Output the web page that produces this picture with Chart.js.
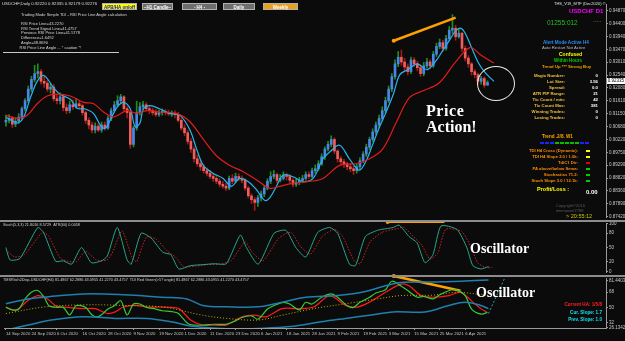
<!DOCTYPE html>
<html>
<head>
<meta charset="utf-8">
<script src="https://cdn.jsdelivr.net/npm/chart.js@4.4.1/dist/chart.umd.min.js"></script>
<style>
  body { margin: 0; background: #0b0b0b; width: 625px; height: 341px; overflow: hidden; position: relative;
         font-family: "Liberation Sans", Arial, sans-serif; }
  canvas { position: absolute; left: 0; }
  .t { position: absolute; white-space: nowrap; line-height: 1; }
  .b { font-weight: bold; }
  .r { text-align: right; }
  .btn { position: absolute; top: 3px; height: 7px; font: bold 4.5px/7px "Liberation Sans", Arial, sans-serif;
         text-align: center; box-sizing: border-box; border: 1px solid #b0b0b0; }
  .big { position: absolute; white-space: nowrap; line-height: 1; color: #fff; font-weight: bold;
         font-family: "Liberation Serif", "Times New Roman", serif; }
  .sep { position: absolute; left: 0; width: 625px; height: 2px; background: #8c8c8c; }
  .sq { position: absolute; width: 4px; height: 2px; }
</style>
</head>
<body>
<canvas id="main" width="625" height="221" style="top:0"></canvas>
<canvas id="stoch" width="625" height="57" style="top:219px"></canvas>
<canvas id="tdi" width="625" height="67" style="top:274px"></canvas>

<div class="sep" style="top:220px"></div>
<div class="sep" style="top:275px"></div>

<!-- top left -->
<div class="t" style="left:2px;top:2px;font-size:4.3px;color:#ddd">USDCHF,Daily 0.92220 0.92335 0.92179 0.92276</div>
<div class="btn" style="left:102px;width:35px;background:#ffff00;color:#1010c0">APB/HA on/off</div>
<div class="btn" style="left:142px;width:31px;background:#6e6e6e;color:#fff">~H1 Candle~</div>
<div class="btn" style="left:182px;width:35px;background:#6e6e6e;color:#fff">- H4 -</div>
<div class="btn" style="left:223px;width:32px;background:#6e6e6e;color:#fff">Daily</div>
<div class="btn" style="left:263px;width:35px;background:#e8a020;color:#fff">Weekly</div>
<div class="t" style="left:21px;top:12.7px;font-size:4px;color:#d8d8d8">Trading Mode Simple TDI - RSI Price Line Angle calculation</div>
<div class="t" style="left:21px;top:22px;font-size:4px;color:#d8d8d8">RSI Price Line=43.2270</div>
<div class="t" style="left:21px;top:26.7px;font-size:4px;color:#d8d8d8">RSI Trend Signal Line=41.4757</div>
<div class="t" style="left:21px;top:31.3px;font-size:4px;color:#d8d8d8">Previous RSI Price Line=41.5778</div>
<div class="t" style="left:21px;top:36px;font-size:4px;color:#d8d8d8">Difference=1.6492</div>
<div class="t" style="left:21px;top:40.7px;font-size:4px;color:#d8d8d8">Angle=48.8690</div>
<div class="t" style="left:19.5px;top:45.7px;font-size:4px;color:#d8d8d8">RSI Price Line Angle ... * caution *!</div>
<div style="position:absolute;left:3px;top:52px;width:116px;height:1px;background:#c8c8c8"></div>

<!-- right info panel -->
<div class="t" style="left:554px;top:2.3px;font-size:4px;color:#e0e0e0">THS_V19_MTF (Dec2020) ©</div>
<div class="t b" style="left:569px;top:8px;font-size:6px;color:#ff00ff">USDCHF D1</div>
<div class="t" style="left:547px;top:19.7px;font-size:6.5px;color:#1fc01f">01255:012</div>
<div class="t" style="left:593px;top:17px;font-size:6px;color:#ffa500">.....</div>
<div class="t b" style="left:543px;top:40.7px;font-size:4.6px;color:#2a8cf0">Alert Mode Active H4</div>
<div class="t" style="left:542px;top:45.9px;font-size:4.2px;color:#bbbbbb">Auto Restart Not Active</div>
<div class="t b" style="left:559px;top:51.5px;font-size:5px;color:#ffff00">Confused</div>
<div class="t b" style="left:554px;top:58.8px;font-size:4.5px;color:#00d000">Within Hours</div>
<div class="t b" style="left:542px;top:64.8px;font-size:4.3px;color:#e8a000">Trend Up *** Strong Buy</div>

<div class="t b r" style="right:60px;top:74px;font-size:4.3px;color:#f0c040">Magic Number:</div>
<div class="t b r" style="right:27px;top:74px;font-size:4.3px;color:#fff">0</div>
<div class="t b r" style="right:60px;top:80px;font-size:4.3px;color:#f0c040">Lot Size:</div>
<div class="t b r" style="right:27px;top:80px;font-size:4.3px;color:#fff">3.56</div>
<div class="t b r" style="right:60px;top:86px;font-size:4.3px;color:#f0c040">Spread:</div>
<div class="t b r" style="right:27px;top:86px;font-size:4.3px;color:#fff">0.0</div>
<div class="t b r" style="right:60px;top:92px;font-size:4.3px;color:#f0c040">ATR PIP Range:</div>
<div class="t b r" style="right:27px;top:92px;font-size:4.3px;color:#fff">21</div>
<div class="t b r" style="right:60px;top:98px;font-size:4.3px;color:#f0c040">Tic Count / min:</div>
<div class="t b r" style="right:27px;top:98px;font-size:4.3px;color:#fff">42</div>
<div class="t b r" style="right:60px;top:104px;font-size:4.3px;color:#f0c040">Tic Count Max:</div>
<div class="t b r" style="right:27px;top:104px;font-size:4.3px;color:#fff">381</div>
<div class="t b r" style="right:60px;top:110px;font-size:4.3px;color:#f0c040">Winning Trades:</div>
<div class="t b r" style="right:27px;top:110px;font-size:4.3px;color:#fff">0</div>
<div class="t b r" style="right:60px;top:116px;font-size:4.3px;color:#f0c040">Losing Trades:</div>
<div class="t b r" style="right:27px;top:116px;font-size:4.3px;color:#fff">0</div>

<div class="t b" style="left:542px;top:134.7px;font-size:4.6px;color:#ffa500">Trend .2/8. W1</div>
<div class="sq" style="left:540px;top:142px;background:#2020ff"></div>
<div class="sq" style="left:545px;top:142px;background:#2020ff"></div>
<div class="sq" style="left:550px;top:142px;background:#2020ff"></div>
<div class="sq" style="left:555px;top:142px;background:#00c000"></div>
<div class="sq" style="left:560px;top:142px;background:#00c000"></div>
<div class="sq" style="left:565px;top:142px;background:#00c000"></div>
<div class="sq" style="left:570px;top:142px;background:#00c000"></div>
<div class="sq" style="left:575px;top:142px;background:#00c000"></div>
<div class="sq" style="left:580px;top:142px;background:#2020ff"></div>
<div class="sq" style="left:585px;top:142px;background:#2020ff"></div>

<div class="t b r" style="right:47px;top:149px;font-size:4.2px;color:#ff8c00">TDI H4 Cross (Dynamic):</div>
<div class="sq" style="left:586px;top:150px;background:#ffff00"></div>
<div class="t b r" style="right:47px;top:155px;font-size:4.2px;color:#ff8c00">TDI H4 Slope 2.0 / 1.0k:</div>
<div class="sq" style="left:586px;top:156px;background:#ffff00"></div>
<div class="t b r" style="right:47px;top:161px;font-size:4.2px;color:#ff8c00">TdiC1 Dir:</div>
<div class="sq" style="left:586px;top:162px;background:#e00000"></div>
<div class="t b r" style="right:47px;top:167px;font-size:4.2px;color:#ff8c00">PA above/below Sema:</div>
<div class="sq" style="left:586px;top:168px;background:#00d000"></div>
<div class="t b r" style="right:47px;top:173px;font-size:4.2px;color:#ff8c00">Stochastics 71.2:</div>
<div class="sq" style="left:586px;top:174px;background:#00d000"></div>
<div class="t b r" style="right:47px;top:179px;font-size:4.2px;color:#ff8c00">Stoch Slope 3.0 / 12.1k:</div>
<div class="sq" style="left:586px;top:180px;background:#00d000"></div>

<div class="t b" style="left:537px;top:187.2px;font-size:5.5px;color:#ffff00">Profit/Loss :</div>
<div class="t b" style="left:586px;top:189px;font-size:6px;color:#fff">0.00</div>
<div class="t" style="left:556px;top:204px;font-size:4px;color:#5a5a5a">Copyright©2016</div>
<div class="t" style="left:556px;top:209px;font-size:4px;color:#5a5a5a">timmanuel7788</div>
<div class="t" style="left:566px;top:214.2px;font-size:5.5px;color:#c8c800">&gt; 20:55:12</div>

<!-- current price marker -->
<div class="t" style="left:607px;top:78px;width:18px;height:6px;background:#fff;color:#000;font-size:4.5px;line-height:6px;text-align:center">0.92335</div>
<!-- circled last candles -->
<div style="position:absolute;left:477px;top:66px;width:36px;height:33px;border:1px solid #e8e8e8;border-radius:50%"></div>

<div class="big" style="left:426px;top:103px;font-size:16px;letter-spacing:0.6px">Price</div>
<div class="big" style="left:426px;top:119px;font-size:16px">Action!</div>

<!-- sub window labels -->
<div class="t" style="left:3px;top:224px;font-size:3.8px;color:#d0d0d0">Stoch(5,3,3) 21.8016 8.5729&nbsp;&nbsp;ATR(60) 0.0058</div>
<div class="big" style="left:470px;top:242px;font-size:14px">Oscillator</div>
<div class="t" style="left:3px;top:279px;font-size:3.8px;color:#d0d0d0">TMSRtich2Disp-USDCHF(H4) 81.4867 62.2886 43.0955 41.2270 43.4757&nbsp;&nbsp;TDI Red Green(&gt;5? angle) 81.4867 62.2886 43.0955 41.2270 43.4757</div>
<div class="big" style="left:476px;top:286px;font-size:14px">Oscillator</div>
<div class="t b r" style="right:23px;top:303.4px;font-size:4.6px;color:#ff2020">Current HA: 1/5/8</div>
<div class="t b r" style="right:23px;top:310.7px;font-size:4.6px;color:#18e0f0">Cur. Slope: 1.7</div>
<div class="t b r" style="right:23px;top:318.4px;font-size:4.6px;color:#18e0f0">Prev. Slope: 1.0</div>

<script>
// ---- daily USDCHF bars, 14 Sep 2020 .. 15 Apr 2021 (one row = 8 bars = one date tick)
const opens = [
  0.9085,0.9091,0.9098,0.9077,0.9088,0.9102,0.9133,0.9162,
  0.9204,0.9239,0.9260,0.9267,0.9232,0.9225,0.9204,0.9211,
  0.9169,0.9162,0.9176,0.9137,0.9126,0.9147,0.9140,0.9151,
  0.9144,0.9119,0.9091,0.9074,0.9056,0.9070,0.9056,0.9074,
  0.9063,0.9098,0.9126,0.9147,0.9162,0.9176,0.9133,0.9119,
  0.9004,0.9063,0.9119,0.9140,0.9147,0.9133,0.9126,0.9119,
  0.9112,0.9119,0.9123,0.9119,0.9116,0.9116,0.9112,0.9091,
  0.9063,0.9046,0.9015,0.8987,0.8952,0.8934,0.8923,0.8909,
  0.8899,0.8888,0.8881,0.8871,0.8860,0.8853,0.8846,0.8881,
  0.8871,0.8888,0.8881,0.8874,0.8846,0.8818,0.8804,0.8794,
  0.8811,0.8825,0.8846,0.8871,0.8888,0.8895,0.8874,0.8881,
  0.8892,0.8888,0.8874,0.8860,0.8867,0.8874,0.8881,0.8895,
  0.8888,0.8909,0.8916,0.8934,0.8959,0.8987,0.9004,0.9022,
  0.8980,0.8952,0.8941,0.8934,0.8923,0.8916,0.8909,0.8923,
  0.8945,0.8969,0.8994,0.9022,0.9049,0.9074,0.9098,0.9126,
  0.9162,0.9204,0.9249,0.9295,0.9319,0.9302,0.9284,0.9267,
  0.9309,0.9295,0.9281,0.9260,0.9288,0.9302,0.9288,0.9330,
  0.9358,0.9372,0.9351,0.9386,0.9417,0.9424,0.9393,0.9406,
  0.9351,0.9316,0.9295,0.9267,0.9256,0.9232,0.9242,0.9218
];
const closes = [
  0.9091,0.9098,0.9077,0.9088,0.9102,0.9133,0.9162,0.9204,
  0.9239,0.9260,0.9267,0.9232,0.9225,0.9204,0.9211,0.9169,
  0.9162,0.9176,0.9137,0.9126,0.9147,0.9140,0.9151,0.9144,
  0.9119,0.9091,0.9074,0.9056,0.9070,0.9056,0.9074,0.9063,
  0.9098,0.9126,0.9147,0.9162,0.9176,0.9133,0.9119,0.9004,
  0.9063,0.9119,0.9140,0.9147,0.9133,0.9126,0.9119,0.9112,
  0.9119,0.9123,0.9119,0.9116,0.9116,0.9112,0.9091,0.9063,
  0.9046,0.9015,0.8987,0.8952,0.8934,0.8923,0.8909,0.8899,
  0.8888,0.8881,0.8871,0.8860,0.8853,0.8846,0.8881,0.8871,
  0.8888,0.8881,0.8874,0.8846,0.8818,0.8804,0.8794,0.8811,
  0.8825,0.8846,0.8871,0.8888,0.8895,0.8874,0.8881,0.8892,
  0.8888,0.8874,0.8860,0.8867,0.8874,0.8881,0.8895,0.8888,
  0.8909,0.8916,0.8934,0.8959,0.8987,0.9004,0.9022,0.8980,
  0.8952,0.8941,0.8934,0.8923,0.8916,0.8909,0.8923,0.8945,
  0.8969,0.8994,0.9022,0.9049,0.9074,0.9098,0.9126,0.9162,
  0.9204,0.9249,0.9295,0.9319,0.9302,0.9284,0.9267,0.9309,
  0.9295,0.9281,0.9260,0.9288,0.9302,0.9288,0.9330,0.9358,
  0.9372,0.9351,0.9386,0.9417,0.9424,0.9393,0.9406,0.9351,
  0.9316,0.9295,0.9267,0.9256,0.9232,0.9242,0.9218,0.9228
];
const highs = [
  0.9110,0.9112,0.9105,0.9100,0.9115,0.9140,0.9170,0.9215,
  0.9250,0.9290,0.9295,0.9275,0.9250,0.9235,0.9225,0.9220,
  0.9185,0.9190,0.9180,0.9150,0.9160,0.9165,0.9170,0.9160,
  0.9150,0.9125,0.9100,0.9085,0.9082,0.9078,0.9085,0.9085,
  0.9105,0.9135,0.9160,0.9180,0.9185,0.9180,0.9140,0.9125,
  0.9070,0.9160,0.9155,0.9160,0.9155,0.9140,0.9135,0.9130,
  0.9128,0.9132,0.9130,0.9128,0.9125,0.9125,0.9120,0.9098,
  0.9075,0.9055,0.9025,0.8995,0.8965,0.8945,0.8930,0.8918,
  0.8910,0.8898,0.8890,0.8880,0.8870,0.8865,0.8890,0.8895,
  0.8900,0.8898,0.8890,0.8880,0.8852,0.8825,0.8812,0.8820,
  0.8835,0.8855,0.8880,0.8905,0.8910,0.8900,0.8895,0.8905,
  0.8900,0.8895,0.8880,0.8878,0.8885,0.8892,0.8905,0.8905,
  0.8918,0.8930,0.8945,0.8970,0.8995,0.9015,0.9035,0.9028,
  0.8985,0.8960,0.8950,0.8940,0.8935,0.8925,0.8932,0.8955,
  0.8978,0.9005,0.9030,0.9060,0.9085,0.9110,0.9140,0.9175,
  0.9215,0.9260,0.9310,0.9340,0.9345,0.9315,0.9295,0.9320,
  0.9318,0.9305,0.9290,0.9300,0.9315,0.9310,0.9340,0.9370,
  0.9385,0.9380,0.9398,0.9430,0.9473,0.9435,0.9420,0.9410,
  0.9360,0.9325,0.9300,0.9275,0.9262,0.9250,0.9248,0.9234
];
const lows = [
  0.9070,0.9082,0.9065,0.9068,0.9080,0.9095,0.9125,0.9155,
  0.9195,0.9230,0.9245,0.9222,0.9210,0.9195,0.9190,0.9160,
  0.9150,0.9150,0.9125,0.9115,0.9118,0.9130,0.9135,0.9135,
  0.9110,0.9080,0.9060,0.9045,0.9045,0.9050,0.9048,0.9055,
  0.9058,0.9090,0.9120,0.9140,0.9150,0.9125,0.9100,0.8990,
  0.8995,0.9055,0.9110,0.9130,0.9125,0.9115,0.9110,0.9105,
  0.9105,0.9110,0.9110,0.9108,0.9105,0.9100,0.9085,0.9055,
  0.9035,0.9005,0.8975,0.8940,0.8925,0.8910,0.8900,0.8890,
  0.8880,0.8870,0.8862,0.8850,0.8845,0.8838,0.8840,0.8862,
  0.8865,0.8872,0.8865,0.8838,0.8810,0.8790,0.8765,0.8780,
  0.8800,0.8815,0.8840,0.8862,0.8880,0.8865,0.8868,0.8875,
  0.8875,0.8865,0.8850,0.8852,0.8858,0.8865,0.8875,0.8880,
  0.8882,0.8900,0.8910,0.8928,0.8950,0.8980,0.8995,0.8970,
  0.8940,0.8930,0.8920,0.8912,0.8905,0.8895,0.8900,0.8915,
  0.8938,0.8960,0.8985,0.9015,0.9040,0.9065,0.9090,0.9118,
  0.9155,0.9195,0.9240,0.9285,0.9290,0.9270,0.9255,0.9260,
  0.9285,0.9270,0.9250,0.9252,0.9280,0.9278,0.9282,0.9322,
  0.9350,0.9340,0.9345,0.9380,0.9405,0.9380,0.9388,0.9340,
  0.9305,0.9282,0.9255,0.9245,0.9220,0.9222,0.9210,0.9218
];
const dateLabels = ["14 Sep 2020","24 Sep 2020","6 Oct 2020","16 Oct 2020","28 Oct 2020","9 Nov 2020",
  "19 Nov 2020","1 Dec 2020","11 Dec 2020","23 Dec 2020","6 Jan 2021","18 Jan 2021","28 Jan 2021",
  "9 Feb 2021","19 Feb 2021","3 Mar 2021","15 Mar 2021","25 Mar 2021","6 Apr 2021"];
const priceTicks = [0.94870,0.94400,0.93940,0.93470,0.93010,0.92540,0.92080,0.91610,0.91150,
  0.90680,0.90220,0.89750,0.89290,0.88820,0.88360,0.87890,0.87420];
const lastPrice = 0.92335;

// moving averages, [bar, price]
const fastMA = [[0,0.9102],[2.5,0.9086],[4,0.9082],[5.6,0.9103],[7.7,0.9173],[9.8,0.9232],[11.9,0.9253],
  [15,0.9208],[17,0.9185],[20.2,0.9167],[22.3,0.9135],[24.9,0.9132],[27.5,0.9115],[29.6,0.9074],[31.1,0.9062],
  [32.7,0.9091],[34.8,0.9138],[36.9,0.9156],[39,0.9132],[40.5,0.9068],[42,0.9080],[43.1,0.9132],[45.2,0.9144],
  [48.3,0.9132],[51.5,0.9115],[54.6,0.9109],[57.7,0.9056],[59.8,0.8987],[61.9,0.8928],[65,0.8899],[68.1,0.8881],
  [70.7,0.8853],[73.3,0.8881],[75.9,0.8870],[78.5,0.8841],[81.1,0.8802],[82.7,0.8811],[84.8,0.8852],[86.9,0.8893],
  [90,0.8887],[93.1,0.8870],[96.3,0.8881],[99.4,0.8952],[101.5,0.8976],[104.6,0.9001],[107.7,0.8952],[110.8,0.8911],
  [113,0.8946],[115,0.9004],[117,0.9063],[119.4,0.9126],[121.5,0.9186],[123.5,0.9256],[126,0.9274],[129,0.9295],
  [132,0.9274],[135,0.9309],[137,0.9344],[139,0.9379],[141,0.9414],[142.5,0.9424],[144,0.9406],[146,0.9354],
  [148,0.9302],[150,0.9267],[153,0.9232]];
const slowMA = [[0,0.9109],[3.6,0.9098],[6.7,0.9109],[9.8,0.9151],[12.9,0.9179],[16,0.9186],[20.2,0.9179],
  [24.4,0.9156],[27.5,0.9151],[30.6,0.9121],[33.8,0.9103],[37.9,0.9126],[41,0.9116],[44.2,0.9126],[48.3,0.9121],
  [53.5,0.9116],[57.7,0.9086],[61.9,0.9022],[66,0.8963],[70.2,0.8928],[74.4,0.8905],[78.5,0.8876],[82.7,0.8846],
  [85.8,0.8852],[90,0.8864],[95.2,0.8870],[99.4,0.8881],[104.6,0.8928],[109.8,0.8934],[114,0.8952],[118.1,0.8987],
  [122.3,0.9081],[126.5,0.9173],[130.6,0.9197],[135.8,0.9226],[141,0.9302],[145.5,0.9354],[149,0.9326],[153,0.9298]];
const priceTrend = [[121.6,0.93785],[141,0.94625]];

// stochastic
const stochMain = [[0,50],[1.3,24],[4.4,27],[10,92],[11.9,80],[15.6,21],[18,22],[20.6,15],[23.7,50],[26.8,18],
  [30,22],[31.8,32],[34.9,92],[38,24],[39.3,15],[42.4,80],[45.5,70],[49.2,40],[51.7,35],[54.2,5],[57.9,12],
  [61.7,14],[65.4,16],[69.1,16],[73.5,76],[75.4,50],[79.1,15],[84.1,80],[87.8,86],[90.9,50],[94,30],[97.8,82],
  [101.5,92],[104,80],[107.7,15],[109.6,12],[112.7,73],[116.5,86],[121.4,92],[123.3,97],[126.4,73],[128.9,60],
  [131.4,18],[133.9,35],[136.4,95],[141.4,88],[144.5,50],[146.4,12],[148.9,5],[151.3,10]];
const stochSignal = [[0,45],[2.8,30],[5.8,35],[11.5,82],[13.4,74],[17,28],[19.5,21],[22,20],[25,42],[28.3,24],
  [31.5,23],[33.3,38],[36.4,85],[39.5,30],[41,20],[44,72],[47,68],[50.7,42],[53.2,30],[55.7,10],[59.4,11],
  [63.2,14],[67,15],[70.6,22],[75,62],[77,42],[80.6,22],[85.6,70],[89.3,82],[92.4,52],[95.5,36],[99.3,74],
  [103,88],[105.5,74],[109.2,22],[111.1,16],[114.2,62],[118,82],[122.9,90],[124.8,92],[127.9,72],[130.4,55],
  [132.9,26],[135.4,38],[137.9,88],[142.9,84],[146,48],[147.9,18],[150.4,8],[152.5,8]];
const stochTrend = [[119.7,103.3],[137.5,103.3]];
const stochTicks = [100, 80, 50, 20, 0];

// TDI
const tdiGreen = [[0,50],[2,47],[4,48],[6,60],[8,68],[10,70],[12,62],[13.5,52],[16,50],[18,50],[20,41],[22,52],
  [25,50],[27,41],[29,39],[32,48],[34,52],[36,58],[38,41],[40,54],[42,54],[44,50],[47,48],[49,46],[52,45],[54,43],
  [57,31],[59,29],[62,29],[65,30],[69,30],[72,34],[74,38],[77,40],[79,36],[82,48],[84,52],[87,56],[89,54],[92,47],
  [94,56],[96,54],[99,62],[102,66],[104,62],[107,52],[109,50],[111,56],[114,62],[116,67],[119,71],[121,81],
  [124,75],[126,70],[129,62],[131,63],[134,60],[136,65],[139,70],[141,71],[144,64],[146,48],[149,42],[151,44]];
const tdiRed = [[0,50.4],[3.1,46.5],[6.9,58],[10,64],[13.1,60],[15.6,52],[19.3,50],[24.3,48.5],[28,48.5],
  [31.8,42.7],[34.3,44.6],[36.8,50.4],[40.5,52.3],[44.2,50.4],[49.2,50.4],[54.2,48.5],[57.9,35],[61.7,29],
  [65.4,29],[69.1,29],[74.1,38.8],[77.9,40.7],[81.6,38.8],[86.6,48.5],[91.6,48.5],[96.5,50.4],[101.5,63.9],
  [106.5,52.3],[110.2,50.4],[114,56.2],[119,67.8],[123.9,77.5],[126.4,75.6],[130.2,63.9],[133.9,62],[138.9,63.9],
  [142.6,67.8],[146.4,56.2],[148.9,48.5],[150.7,44.6]];
const tdiBase = [[0,42.7],[11.9,50.4],[24.3,53],[36.8,52.3],[49.2,50.4],[61.7,40.7],[69.1,37],[79.1,35],
  [86.6,40.7],[96.5,48.5],[106.5,54.3],[116.5,60],[123.9,64],[133.9,64.5],[141.4,67.8],[151.3,64]];
const tdiUpper = [[0,54.3],[6.9,60],[11.9,62],[24.3,65.9],[36.8,65],[49.2,62],[56.7,60],[61.7,52.3],[69.1,50.6],
  [79.1,50.6],[86.6,56.2],[94,62],[104,64],[111.5,67.8],[119,75.6],[123.9,79.5],[133.9,80],[142.6,81],[151.3,82.5]];
const tdiLower = [[0,23],[6.9,29],[14.3,35],[24.3,38.8],[34.3,36.9],[44.2,36.9],[51.7,33],[59.2,27.2],[69.1,24.7],
  [79.1,25],[89.1,27.2],[99,33],[106.5,36.9],[114,40.7],[121.4,44.6],[131.4,44.6],[138.9,52.3],[143.9,56.2],
  [148.9,52.3],[151.3,48.5]];
const tdiProjection = [[151.3,42.7],[156.3,84]];
const tdiTrend = [[121.6,87.1],[142.5,69.7]];
const tdiTicks = [81.4403, 68, 50, 32, 26.1342];

// ---- helpers
const grey = '#9a9a9a';
const tickFont = { family: '"Liberation Sans", Arial, sans-serif', size: 4.5 };

const levelLines = {
  id: 'levelLines',
  beforeDatasetsDraw(chart, args, opts) {
    const { ctx, chartArea: a, scales: { y } } = chart;
    ctx.save();
    (opts.lines || []).forEach(l => {
      const py = Math.round(y.getPixelForValue(l.value)) + 0.5;
      ctx.strokeStyle = l.color;
      ctx.lineWidth = 1;
      ctx.setLineDash(l.dash || []);
      ctx.beginPath();
      ctx.moveTo(a.left, py);
      ctx.lineTo(a.right, py);
      ctx.stroke();
    });
    ctx.restore();
  }
};

function xAxis(show) {
  return {
    type: 'linear', min: -0.6, max: 188.15, offset: false, bounds: 'data', display: show,
    afterBuildTicks: s => { s.ticks = dateLabels.map((_, k) => ({ value: k * 8 })); },
    afterFit: s => { s.height = show ? 13 : 0; },
    ticks: { autoSkip: false, maxRotation: 0, align: 'start', color: '#c8c8c8', padding: 1,
             font: { family: tickFont.family, size: 4.3 }, callback: (v, i) => dateLabels[i] },
    grid: { drawOnChartArea: false, drawTicks: true, tickLength: 2, color: grey },
    border: { display: true, color: grey }
  };
}

function yAxis(min, max, vals, fmt) {
  return {
    position: 'right', min, max, bounds: 'data',
    afterFit: s => { s.width = 19; },
    afterBuildTicks: s => { s.ticks = vals.map(v => ({ value: v })); },
    ticks: { color: '#c8c8c8', font: tickFont, padding: 1, callback: fmt },
    grid: { drawOnChartArea: false, drawTicks: true, tickLength: 2, color: grey },
    border: { display: true, color: grey }
  };
}

function line(data, color, width, extra) {
  return Object.assign({ type: 'line', data, borderColor: color, borderWidth: width, pointRadius: 0,
    tension: 0.35, fill: false, order: 0 }, extra || {});
}

function baseOptions(pad, x, y, levels) {
  return {
    responsive: false, animation: false, events: [],
    layout: { padding: pad },
    plugins: { legend: { display: false }, tooltip: { enabled: false }, levelLines: { lines: levels } },
    scales: { x, y }
  };
}

// ---- main price window
const bodies = closes.map((c, i) => ({ x: i, y: [opens[i], c] }));
const wicks = closes.map((c, i) => ({ x: i, y: [lows[i], highs[i]] }));
const isUp = i => closes[i] >= opens[i];

new Chart(document.getElementById('main'), {
  type: 'bar',
  data: {
    datasets: [
      { type: 'bar', data: wicks, grouped: false, barThickness: 1, maxBarThickness: 1, order: 3,
        backgroundColor: c => isUp(c.dataIndex) ? '#1e8f1e' : '#a01818' },
      { type: 'bar', data: bodies, grouped: false, barThickness: 2, maxBarThickness: 2, minBarLength: 1, order: 2,
        backgroundColor: c => isUp(c.dataIndex) ? '#4a86e6' : '#ee5e5a' },
      line(slowMA, '#e41b1b', 1.2),
      line(fastMA, '#27b6ea', 1.2),
      line(priceTrend, '#ffa000', 2.5, { tension: 0, pointRadius: [2, 0], pointBackgroundColor: '#ffa000',
        pointBorderWidth: 0 })
    ]
  },
  options: baseOptions({ left: 2, right: 0, top: 0, bottom: 1 }, xAxis(false),
    yAxis(0.87415, 0.95115, priceTicks, v => v.toFixed(5)),
    [{ value: lastPrice, color: '#3c3c3c' }])
});

// ---- stochastic window
new Chart(document.getElementById('stoch'), {
  type: 'line',
  data: {
    datasets: [
      line(stochMain, '#2aa58e', 1, { tension: 0.2 }),
      line(stochSignal, '#d42020', 1, { tension: 0.2, borderDash: [1.5, 1.5] }),
      line(stochTrend, '#ffa000', 2, { tension: 0, clip: false, pointRadius: [2, 0],
        pointBackgroundColor: '#ffa000', pointBorderWidth: 0 })
    ]
  },
  options: baseOptions({ left: 2, right: 0, top: 3, bottom: 1 }, xAxis(false),
    yAxis(-1.4, 101.4, stochTicks, v => String(v)),
    [80, 50, 20].map(v => ({ value: v, color: '#777', dash: [2, 2] })))
});

// ---- TDI window
new Chart(document.getElementById('tdi'), {
  type: 'line',
  data: {
    datasets: [
      line(tdiUpper, '#1f7fae', 1.5),
      line(tdiLower, '#1f7fae', 1.5),
      line(tdiBase, '#c8b400', 1, { borderDash: [1, 2] }),
      line(tdiProjection, '#2aa0b0', 1, { tension: 0, borderDash: [2, 2] }),
      line(tdiGreen, '#38c838', 1.2, { tension: 0.3 }),
      line(tdiRed, '#ff1a1a', 1.2, { tension: 0.3 }),
      line(tdiTrend, '#ffa000', 2.5, { tension: 0, clip: false, pointRadius: [2, 0],
        pointBackgroundColor: '#ffa000', pointBorderWidth: 0 })
    ]
  },
  options: baseOptions({ left: 2, right: 0, top: 3, bottom: 0 }, xAxis(true),
    yAxis(25.55, 84.81, tdiTicks, v => String(v)),
    [68, 50, 32].map(v => ({ value: v, color: '#777', dash: [2, 2] })))
});
</script>
</body>
</html>
